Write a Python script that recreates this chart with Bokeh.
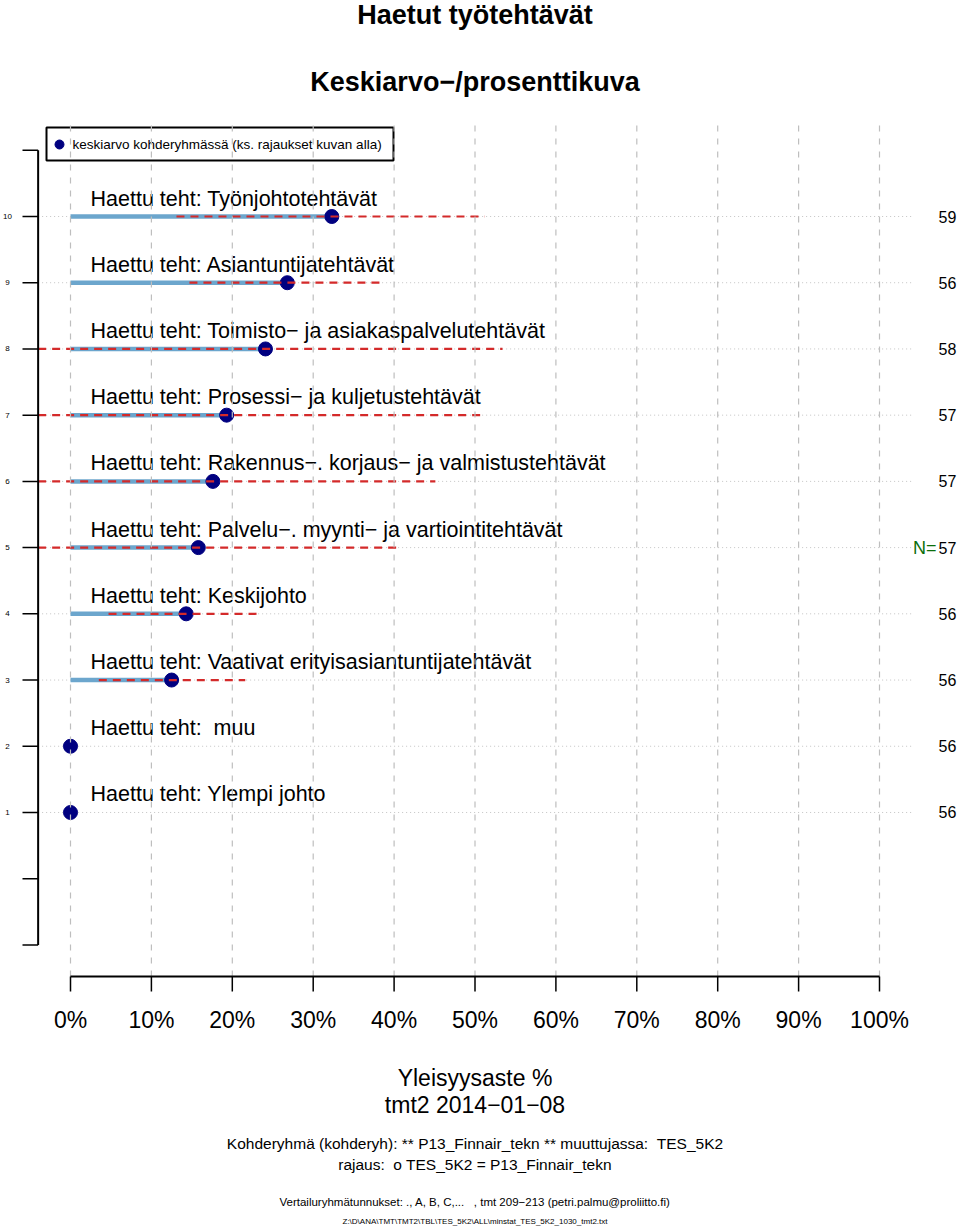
import numpy as np
from bokeh.plotting import figure
from bokeh.models import Range1d
from bokeh.core.properties import value
from bokeh.embed import file_html
from bokeh.resources import INLINE

# ---------------- data ----------------
categories = [
    "Haettu teht: Työnjohtotehtävät",
    "Haettu teht: Asiantuntijatehtävät",
    "Haettu teht: Toimisto− ja asiakaspalvelutehtävät",
    "Haettu teht: Prosessi− ja kuljetustehtävät",
    "Haettu teht: Rakennus−. korjaus− ja valmistustehtävät",
    "Haettu teht: Palvelu−. myynti− ja vartiointitehtävät",
    "Haettu teht: Keskijohto",
    "Haettu teht: Vaativat erityisasiantuntijatehtävät",
    "Haettu teht:  muu",
    "Haettu teht: Ylempi johto",
]
rows = [10, 9, 8, 7, 6, 5, 4, 3, 2, 1]
means = [32.3, 26.8, 24.1, 19.3, 17.6, 15.8, 14.3, 12.5, 0.0, 0.0]
ci_low = [13.1, 14.7, -5.2, -12.1, -9.9, -9.2, 4.7, 3.5, np.nan, np.nan]
ci_high = [51.2, 38.9, 53.4, 50.7, 45.1, 40.8, 23.0, 21.6, np.nan, np.nan]
n_values = [59, 56, 58, 57, 57, 57, 56, 56, 56, 56]
x_ticks = [0, 10, 20, 30, 40, 50, 60, 70, 80, 90, 100]
x_tick_labels = ["0%", "10%", "20%", "30%", "40%", "50%", "60%", "70%", "80%", "90%", "100%"]
y_ticks = [-1, 0, 1, 2, 3, 4, 5, 6, 7, 8, 9, 10, 11]
y_tick_labels = ["", "", "1", "2", "3", "4", "5", "6", "7", "8", "9", "10", ""]

title1 = "Haetut työtehtävät"
title2 = "Keskiarvo−/prosenttikuva"
legend_label = "keskiarvo kohderyhmässä (ks. rajaukset kuvan alla)"
x_title = "Yleisyysaste %"
date_line = "tmt2 2014−01−08"
note1 = "Kohderyhmä (kohderyh): ** P13_Finnair_tekn ** muuttujassa:  TES_5K2"
note2 = "rajaus:  o TES_5K2 = P13_Finnair_tekn"
note3 = "Vertailuryhmätunnukset: ., A, B, C,...   , tmt 209−213 (petri.palmu@proliitto.fi)"
note4 = "Z:\\D\\ANA\\TMT\\TMT2\\TBL\\TES_5K2\\ALL\\minstat_TES_5K2_1030_tmt2.txt"


def keep_spaces(s):
    # SVG collapses runs of spaces; keep them visible with no-break spaces
    return s.replace("  ", " \u00a0")


# ---------------- layout helpers (pixel -> data) ----------------
W, H = 960, 1228
X0_PX, PX_PER_PCT = 70.0, 8.09
ROW10_PY, PX_PER_ROW = 216.0, 66.22


def X(px):
    return (px - X0_PX) / PX_PER_PCT


def Y(py):
    return 10 - (py - ROW10_PY) / PX_PER_ROW


XMIN, XMAX = -4.0, 104.0          # plot region (R style 4% extension)
YBOT, YTOP = Y(976), Y(118)

FONT = "Liberation Sans"
BLUE = "#6CA6CD"
RED = "#D42A2A"
NAVY = "#000080"
GRID = "#BEBEBE"
DOT = "#C4C4C4"
GREEN = "#0B6E0B"

p = figure(width=W, height=H, x_range=Range1d(X(0), X(W)), y_range=Range1d(Y(H), Y(0)),
           output_backend="svg", toolbar_location=None, min_border=0,
           x_axis_type=None, y_axis_type=None, outline_line_color=None)
p.grid.visible = False
p.background_fill_color = "white"
p.border_fill_color = "white"


def txt(xs, ys, texts, size, align="center", color="black", bold=False):
    p.text(x=xs, y=ys, text=[keep_spaces(t) for t in texts], text_font=value(FONT),
           text_font_size=value(size), text_baseline="middle", text_align=align,
           text_color=color, text_font_style="bold" if bold else "normal")


# horizontal dotted row lines
p.segment(x0=[XMIN] * len(rows), y0=rows, x1=[XMAX] * len(rows), y1=rows,
          line_color=DOT, line_width=1, line_dash="1 3")

# legend box
p.quad(left=[X(46)], right=[X(393)], top=[Y(127)], bottom=[Y(160)],
       fill_color=None, line_color="black", line_width=2)
p.scatter(x=[X(59)], y=[Y(144)], size=9, marker="circle", fill_color=NAVY, line_color=NAVY)
txt([X(72)], [Y(144)], [legend_label], "13.5px", align="left")

# blue mean lines
p.segment(x0=[0.0] * len(rows), y0=rows, x1=means, y1=rows,
          line_color=BLUE, line_width=4.5)

# mean markers
p.scatter(x=means, y=rows, size=14, marker="circle", fill_color=NAVY, line_color=NAVY)

# red dashed intervals (clipped to plot region)
lo = np.array(ci_low, dtype=float)
hi = np.array(ci_high, dtype=float)
r = np.array(rows, dtype=float)
ok = ~np.isnan(lo)
p.segment(x0=np.clip(lo[ok], XMIN, XMAX), y0=r[ok], x1=np.clip(hi[ok], XMIN, XMAX), y1=r[ok],
          line_color=RED, line_width=2.2, line_dash="8 6")

# category labels
txt([X(90)] * len(rows), [ri + 18 / PX_PER_ROW for ri in rows], categories, "21.5px", align="left")

# N values at the right
txt([X(938)] * len(rows), [ri for ri in rows], [str(v) for v in n_values], "16px", align="left")
txt([X(936)], [5], ["N="], "18px", align="right", color=GREEN)

# vertical dashed grid (drawn on top, as in the reference)
p.segment(x0=x_ticks, y0=[YBOT] * len(x_ticks), x1=x_ticks, y1=[YTOP] * len(x_ticks),
          line_color=GRID, line_width=1.2, line_dash="6 7")

# x axis
p.segment(x0=[x_ticks[0]], y0=[YBOT], x1=[x_ticks[-1]], y1=[YBOT], line_color="black", line_width=2)
p.segment(x0=x_ticks, y0=[YBOT] * len(x_ticks), x1=x_ticks, y1=[Y(991)] * len(x_ticks),
          line_color="black", line_width=1.5)
txt(x_ticks, [Y(1019)] * len(x_ticks), x_tick_labels, "23px")

# y axis
p.segment(x0=[XMIN], y0=[y_ticks[0]], x1=[XMIN], y1=[y_ticks[-1]], line_color="black", line_width=2)
p.segment(x0=[X(22)] * len(y_ticks), y0=y_ticks, x1=[XMIN] * len(y_ticks), y1=y_ticks,
          line_color="black", line_width=1.5)
txt([X(7)] * len(y_ticks), y_ticks, y_tick_labels, "8px")

# titles
txt([50, 50], [Y(14), Y(81)], [title1, title2], "27px", bold=True)

# bottom texts
txt([50, 50], [Y(1077), Y(1104)], [x_title, date_line], "23px")
txt([50, 50], [Y(1143), Y(1164)], [note1, note2], "15.5px")
txt([50], [Y(1201)], [note3], "11.5px")
txt([50], [Y(1221)], [note4], "8px")

open("out.html", "w").write(file_html(p, INLINE))
